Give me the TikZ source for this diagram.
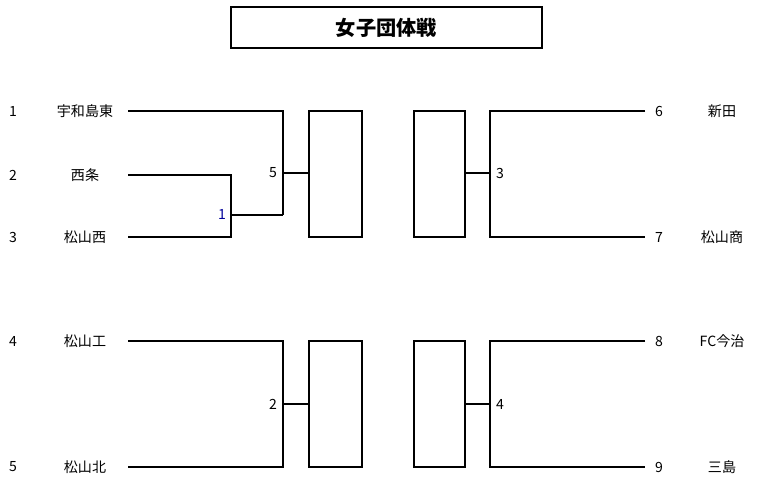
\documentclass[tikz,border=0pt]{standalone}
\usepackage{fontspec}
\setmainfont{Noto Sans CJK JP}
\usetikzlibrary{calc}
\tikzset{
  teamtext/.style={font=\fontsize{8}{9}\selectfont, inner sep=0pt},
  numtext/.style={font=\fontsize{8}{9}\selectfont, inner sep=0pt},
  line/.style={line width=0.8pt},
}
\begin{document}
\begin{tikzpicture}[x=0.02cm,y=-0.02cm]
  \useasboundingbox (0,0) rectangle (757,489);
  % Title
  \node[draw, line width=1.2pt, minimum width=6.22cm, minimum height=0.82cm,
        font=\fontsize{11.5}{13}\selectfont\bfseries] (title) at (386.5,27.5) {女子団体戦};

  % Left teams
  \foreach \n/\t/\y in {1/宇和島東/111, 2/西条/175, 3/松山西/237, 4/松山工/341, 5/松山北/467}{
    \node[numtext] (ln\n) at (13,\y) {\n};
    \node[teamtext] (lt\n) at (85,\y) {\t};
    \coordinate (la\n) at (128,\y);
  }
  % Right teams
  \foreach \n/\t/\y in {6/新田/111, 7/松山商/237, 8/FC今治/341, 9/三島/467}{
    \node[numtext] (rn\n) at (659,\y) {\n};
    \node[teamtext] (rt\n) at (722,\y) {\t};
    \coordinate (ra\n) at (645,\y);
  }

  % Boxes
  \draw[line] (309,111) rectangle (362,237);
  \draw[line] (414,111) rectangle (465,237);
  \draw[line] (309,341) rectangle (362,467);
  \draw[line] (414,341) rectangle (465,467);

  % Left top
  \draw[line] (la2) -- (231,175) -- (231,237) -- (la3);
  \draw[line] (231,215) -- (283,215);
  \draw[line] (la1) -- (283,111) -- (283,215);
  \draw[line] (283,173) -- (309,173);
  \node[numtext, text=blue!60!black] (m1) at (222,214) {1};
  \node[numtext] (m5) at (273,173) {5};

  % Right top
  \draw[line] (ra6) -- (490,111) -- (490,237) -- (ra7);
  \draw[line] (465,173) -- (490,173);
  \node[numtext] (m3) at (500,173) {3};

  % Left bottom
  \draw[line] (la4) -- (283,341) -- (283,467) -- (la5);
  \draw[line] (283,404) -- (309,404);
  \node[numtext] (m2) at (273,404) {2};

  % Right bottom
  \draw[line] (ra8) -- (490,341) -- (490,467) -- (ra9);
  \draw[line] (465,404) -- (490,404);
  \node[numtext] (m4) at (500,404) {4};
\end{tikzpicture}
\end{document}
